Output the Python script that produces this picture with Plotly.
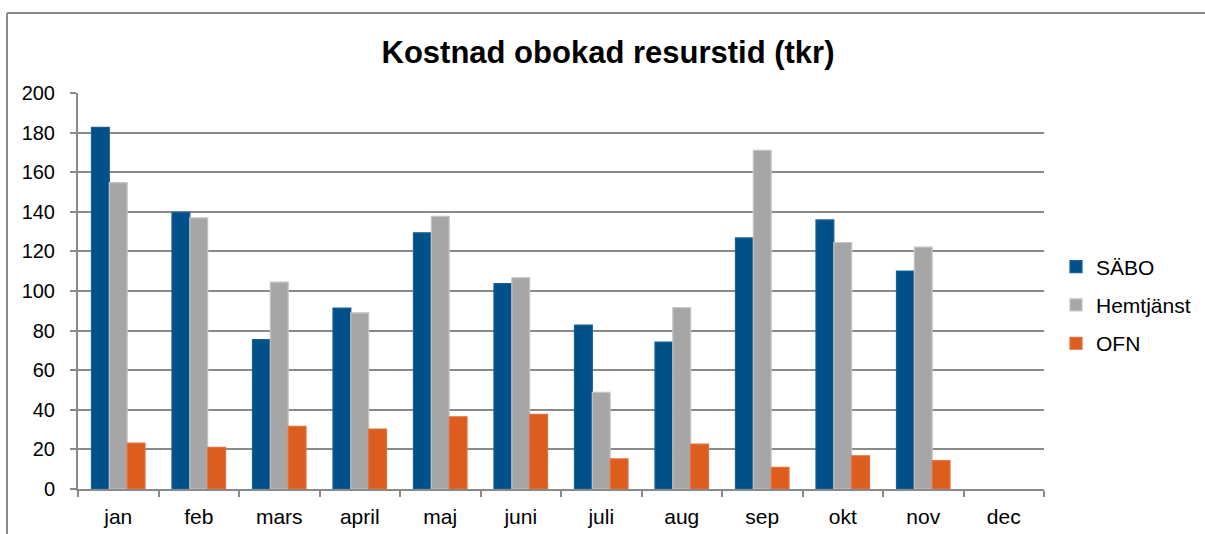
import plotly.graph_objects as go

months = ["jan", "feb", "mars", "april", "maj", "juni", "juli", "aug", "sep", "okt", "nov", "dec"]
sabo = [182.6, 139.7, 75.4, 91.4, 129.4, 103.8, 82.8, 74.2, 126.8, 135.9, 110.1, None]
hemtjanst = [154.7, 136.9, 104.5, 89.0, 137.7, 106.7, 48.8, 91.6, 171.0, 124.5, 122.2, None]
ofn = [23.2, 21.0, 31.6, 30.3, 36.5, 37.7, 15.2, 22.7, 10.9, 16.8, 14.3, None]

series = [
    ("SÄBO", sabo, "#00508a", "#1a6096"),
    ("Hemtjänst", hemtjanst, "#a6a6a6", "#c4c4c4"),
    ("OFN", ofn, "#dc5d1d", "#e27040"),
]

fig = go.Figure()
for i, (name, vals, col, lcol) in enumerate(series):
    fig.add_trace(go.Bar(
        name=name, x=months, y=vals,
        marker=dict(color=col, line=dict(color=lcol, width=1.2)),
        legendgroup=f"g{i}",
    ))

FONT = "Liberation Sans, Arial, sans-serif"
W, H = 1205, 534
L, T, B = 78, 93, 45
R = W - 1044
PH = H - T - B            # plot height in px
PW = W - L - R            # plot width in px

fig.update_layout(
    width=W, height=H,
    margin=dict(l=L, r=R, t=T, b=B, autoexpand=False),
    paper_bgcolor="white", plot_bgcolor="white",
    barmode="group", bargap=0.335, bargroupgap=0,
    font=dict(family=FONT, size=20, color="black"),
    title=dict(text="<b>Kostnad obokad resurstid (tkr)</b>",
               x=608 / W, xanchor="center", y=1 - 52 / H, yanchor="middle",
               font=dict(family=FONT, size=31, color="black")),
    legend=dict(xref="container", yref="container",
                x=1056 / W, xanchor="left", y=1 - 305 / H, yanchor="middle",
                traceorder="grouped", tracegroupgap=8,
                font=dict(family=FONT, size=21, color="black"),
                bgcolor="rgba(0,0,0,0)"),
    showlegend=True,
)
fig.update_xaxes(
    type="category", showgrid=False, showline=True, linecolor="#8a8a8a", linewidth=2,
    ticks="outside", tickson="boundaries", ticklen=6, tickcolor="#8a8a8a", tickwidth=2,
    ticklabelstandoff=8, automargin=False,
    tickfont=dict(family=FONT, size=21, color="black"),
)
fig.update_yaxes(
    range=[0, 200], dtick=20, showgrid=True, gridcolor="#8a8a8a", gridwidth=2,
    showline=True, linecolor="#8a8a8a", linewidth=2,
    ticks="outside", ticklen=6, tickcolor="#8a8a8a", tickwidth=2,
    ticklabelstandoff=11, automargin=False,
    tickfont=dict(family=FONT, size=20, color="black"), zeroline=False,
)
# outer chart frame: top and left edges (the rest lies outside the picture)
fx = (7 - L) / PW
fy = (H - B - 13) / PH
fig.add_shape(type="line", xref="paper", yref="paper", x0=fx, x1=(W - L) / PW, y0=fy, y1=fy,
              line=dict(color="#8a8a8a", width=2), layer="above")
fig.add_shape(type="line", xref="paper", yref="paper", x0=fx, x1=fx, y0=-B / PH, y1=fy,
              line=dict(color="#8a8a8a", width=2), layer="above")

# remove the default page margin so the 1205x534 figure fills the window exactly
fig.write_html("out.html", config={"displayModeBar": False},
               post_script="document.body.style.margin='0';document.body.style.overflow='hidden';")
